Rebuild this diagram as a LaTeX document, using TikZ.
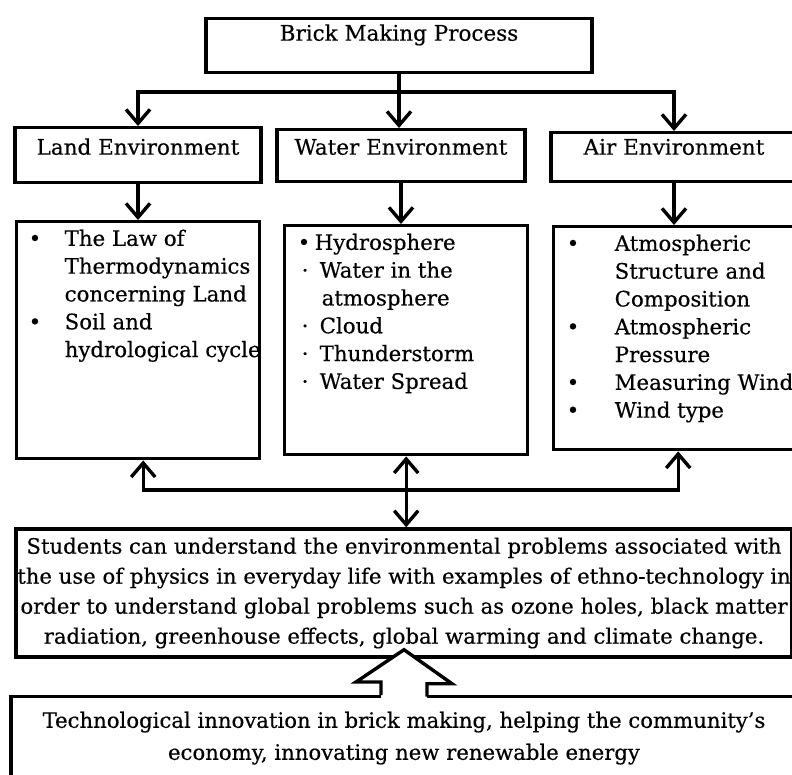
\documentclass[tikz,border=0pt]{standalone}
\usepackage{fontspec}
\setmainfont{DejaVu Serif}[FakeBold=0.4]
\usetikzlibrary{arrows.meta,calc}

\newcommand{\blt}[3]{\mbox{\hspace*{#1}\makebox[#2][l]{\textbullet}#3}}
\newcommand{\dotb}[3]{\mbox{\hspace*{#1}\makebox[#2][l]{·}#3}}
\newcommand{\cont}[2]{\mbox{\hspace*{#1}#2}}
\newcommand{\listbox}[3]{\parbox[t][#2][t]{#1}{\raggedright\fontsize{21.3}{27.8}\selectfont #3}}

\begin{document}
\begin{tikzpicture}[x=1pt, y=-1pt,
		box/.style={draw, line width=3.4pt},
		hdr/.style={box, anchor=north, inner ysep=0pt, font=\fontsize{21.5}{24}\selectfont},
		listnode/.style={box, anchor=north west, inner xsep=10pt, inner ysep=8pt},
		arr/.style={line width=3.4pt, -{Straight Barb[length=14pt,width=24pt]}},
		dblarr/.style={line width=3.4pt, {Straight Barb[length=14pt,width=24pt]}-{Straight Barb[length=14pt,width=24pt]}}]
	%%%%% FRAME %%%%%
	\useasboundingbox (0,0) rectangle (792,774);
	\clip (0,0) rectangle (792,774);
	\fill[white] (0,0) rectangle (792,774);

	%%%%% TOP %%%%%
	\node[hdr, minimum width=386pt, text height=22pt, text depth=32pt] (title) at (399,17) {Brick Making Process};

	\node[hdr, minimum width=246pt, text height=27pt, text depth=28pt] (land) at (138,126) {Land Environment};
	\node[hdr, minimum width=248pt, text height=25pt, text depth=27pt] (water) at (401,128) {Water Environment};
	\node[hdr, minimum width=246pt, text height=22pt, text depth=27pt] (air) at (674,131) {Air Environment};

	%%%%% LISTS %%%%%
	\node[listnode] (landlist) at (15,220) {\listbox{223pt}{221pt}{%
		\blt{2pt}{36pt}{The Law of}\\
		\cont{38pt}{Thermodynamics}\\
		\cont{38pt}{concerning Land}\\
		\blt{2pt}{36pt}{Soil and}\\
		\cont{38pt}{hydrological cycle}}};
	\node[listnode] (waterlist) at (283,224) {\listbox{223pt}{213pt}{%
		\blt{3pt}{17pt}{Hydrosphere}\\
		\dotb{7pt}{18pt}{Water in the}\\
		\cont{27pt}{atmosphere}\\
		\dotb{7pt}{18pt}{Cloud}\\
		\dotb{7pt}{18pt}{Thunderstorm}\\
		\dotb{7pt}{18pt}{Water Spread}}};
	\node[listnode] (airlist) at (552,225) {\listbox{223pt}{207pt}{%
		\blt{3pt}{48pt}{Atmospheric}\\
		\cont{51pt}{Structure and}\\
		\cont{51pt}{Composition}\\
		\blt{3pt}{48pt}{Atmospheric}\\
		\cont{51pt}{Pressure}\\
		\blt{3pt}{48pt}{Measuring Wind}\\
		\blt{3pt}{48pt}{Wind type}}};

	%%%%% BOTTOM %%%%%
	\node[box, minimum width=776pt, minimum height=128pt, align=center, inner sep=0pt, font=\fontsize{21.2}{30}\selectfont] (students) at (404,593) {Students can understand the environmental problems associated with\\
		the use of physics in everyday life with examples of ethno-technology in\\
		order to understand global problems such as ozone holes, black matter\\
		radiation, greenhouse effects, global warming and climate change.};
	\node[box, anchor=north, minimum width=786pt, align=center, inner ysep=15pt, font=\fontsize{21.2}{32}\selectfont] (innov) at (404,695) {Technological innovation in brick making, helping the community's\\
		economy, innovating new renewable energy};

	%%%%% ARROWS %%%%%
	\coordinate (split) at (399,92);
	\draw[line width=3.4pt] (title.south) -- (split);
	\draw[arr] (split) -| (land.north);
	\draw[arr] (split) -| (air.north);
	\draw[arr] (split) -- (split |- water.north);

	\draw[arr] (land.south) -- (land.south |- landlist.north);
	\draw[arr] (water.south) -- (water.south |- waterlist.north);
	\draw[arr] (air.south) -- (air.south |- airlist.north);

	\coordinate (merge) at (404,490);
	\draw[arr] (merge) -| ($(landlist.south)+(5,0)$);
	\draw[arr] (merge) -| ($(airlist.south)+(3,0)$);
	\draw[dblarr] (waterlist.south) -- (waterlist.south |- students.north);

	% hollow arrow
	\fill[white] ($(innov.north)+(-23,3)$) -- ++(0,-16) -- ++(-25,0) -- ($(students.south)+(0,-9)$) -- ++(48,34) -- ++(-25,0) -- ++(0,16) -- cycle;
	\draw[line width=3.4pt] ($(innov.north)+(-23,0)$) -- ++(0,-13) -- ++(-25,0) -- ($(students.south)+(0,-9)$) -- ++(48,34) -- ++(-25,0) -- ++(0,13);
	%%%%% END %%%%%
\end{tikzpicture}
\end{document}
